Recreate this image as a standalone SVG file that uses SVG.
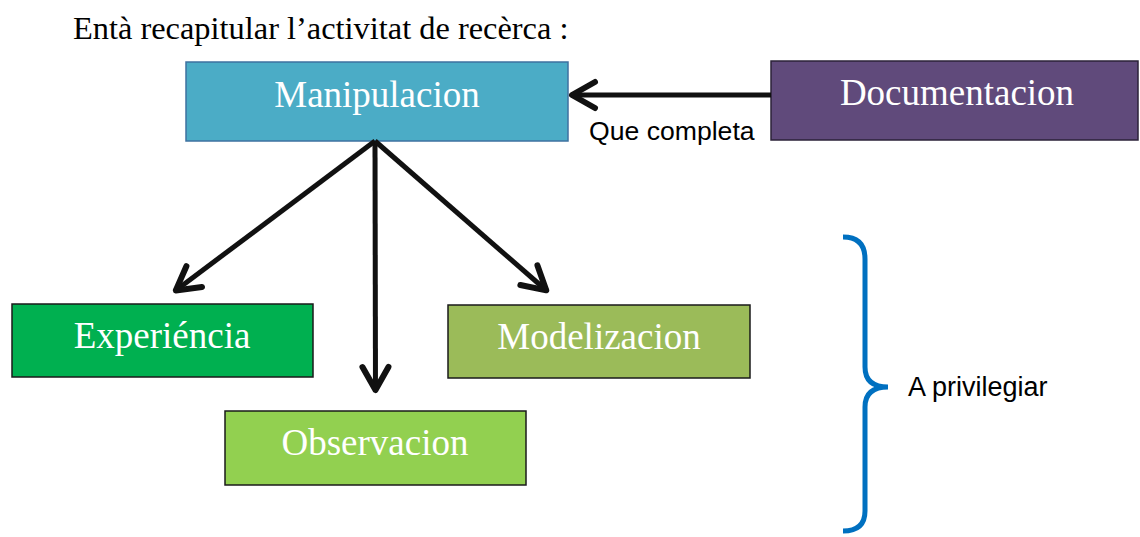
<svg xmlns="http://www.w3.org/2000/svg" width="1140" height="537" viewBox="0 0 1140 537">
<style>
.box{stroke-width:1.5}
.lbl{font-family:"Liberation Serif","Times New Roman",serif;fill:#fff;text-anchor:middle;font-size:37px}
.sans{font-family:"Liberation Sans",Arial,sans-serif;fill:#000;font-size:26px}
.conn{stroke:#111;stroke-width:5;fill:none}
</style>
<defs>
<marker id="arr" markerUnits="userSpaceOnUse" markerWidth="40" markerHeight="40" viewBox="-30 -20 40 40" refX="0" refY="0" orient="auto">
<path d="M-24,-13 L-1,0 L-24,13" fill="none" stroke="#111" stroke-width="6" stroke-linecap="round" stroke-linejoin="round"/>
</marker>
</defs>
<rect width="1140" height="537" fill="#fff"/>
<text x="73" y="39" style="font-family:'Liberation Serif','Times New Roman',serif;font-size:32.4px;fill:#000">Entà recapitular l’activitat de recèrca :</text>
<g id="manipulacion">
<rect class="box" x="186" y="62" width="382" height="79" fill="#4BACC6" stroke="#3E72A0"/>
<text class="lbl" x="377" y="107">Manipulacion</text>
</g>
<g id="documentacion">
<rect class="box" x="771" y="61" width="367" height="79" fill="#604A7B" stroke="#2B2238"/>
<text class="lbl" x="957" y="105">Documentacion</text>
</g>
<g id="experiencia">
<rect class="box" x="12" y="304" width="301" height="73" fill="#00B050" stroke="#1A1A1A"/>
<text class="lbl" x="162" y="348">Experiéncia</text>
</g>
<g id="modelizacion">
<rect class="box" x="448" y="305" width="302" height="73" fill="#9BBB59" stroke="#1A1A1A"/>
<text class="lbl" x="599" y="349">Modelizacion</text>
</g>
<g id="observacion">
<rect class="box" x="225" y="411" width="301" height="74" fill="#92D050" stroke="#1A1A1A"/>
<text class="lbl" x="375" y="455">Observacion</text>
</g>
<g id="connectors">
<line class="conn" x1="771" y1="95" x2="571" y2="95" marker-end="url(#arr)"/>
<line class="conn" x1="375" y1="141" x2="175" y2="291" marker-end="url(#arr)"/>
<line class="conn" x1="375" y1="141" x2="375.5" y2="391" marker-end="url(#arr)"/>
<line class="conn" x1="375" y1="141" x2="547" y2="291" marker-end="url(#arr)"/>
</g>
<text class="sans" x="589" y="140" style="font-size:26.6px">Que completa</text>
<g id="brace">
<path d="M843,237 Q865,237 865,259 L865,367 Q865,387 888,387 Q865,387 865,407 L865,511 Q865,531 843,531" fill="none" stroke="#0070C0" stroke-width="5"/>
<text class="sans" x="908" y="396" style="font-size:27px">A privilegiar</text>
</g>
</svg>
